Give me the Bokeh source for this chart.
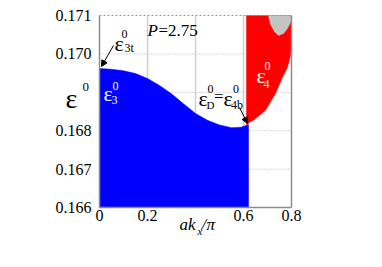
from bokeh.plotting import figure
from bokeh.models import (Range1d, FixedTicker, LinearAxis, Label, Arrow, NormalHead)
from bokeh.embed import file_html
from bokeh.resources import INLINE

# ---- data ----
x_ticks = [0.0, 0.2, 0.6, 0.8]
x_grid = [0.2, 0.4, 0.6]
y_ticks = [0.166, 0.167, 0.168, 0.170, 0.171]
y_grid = [0.167, 0.168, 0.169, 0.170]
x_lim = (0.0, 0.8)
y_lim = (0.166, 0.171)

# epsilon_3 band (blue) upper edge
kx_blue = [0.0, 0.05, 0.1, 0.15, 0.2, 0.25, 0.3, 0.35, 0.4, 0.45, 0.5, 0.55, 0.59, 0.621]
eps3_top = [0.16962, 0.16960, 0.16956, 0.16949, 0.16936, 0.16918, 0.16896, 0.16870,
            0.16845, 0.16827, 0.16815, 0.16808, 0.16809, 0.16816]

# epsilon_4 band (red) lower/right edge
kx_red = [0.6125, 0.625, 0.6458, 0.6917, 0.7333, 0.7625, 0.7833, 0.7958, 0.8]
eps4_low = [0.16814, 0.16822, 0.16829, 0.16853, 0.16897, 0.16939, 0.16965, 0.16996, 0.17022]

# grey band at top right
kx_grey = [0.704, 0.7125, 0.729, 0.746, 0.767, 0.783, 0.796, 0.8]
eps_grey = [0.171, 0.17077, 0.17058, 0.17048, 0.17053, 0.17066, 0.17082, 0.17092]

FONT = "'Liberation Serif', serif"
AXFONT = "serif"

# The frame covers the whole canvas so that the axis titles (with sub/superscripts)
# can be drawn as labels; axes are pinned at the data limits with fixed_location.
p = figure(width=374, height=259, output_backend="svg", toolbar_location=None,
           x_range=Range1d(-0.4125, 1.145833), y_range=Range1d(0.1646458, 0.1713906),
           x_axis_location=None, y_axis_location=None, min_border=0)
p.outline_line_color = None
p.background_fill_color = "white"
p.grid.visible = False

# grid lines restricted to the data box
p.segment(x0=x_grid, y0=[y_lim[0]] * len(x_grid), x1=x_grid, y1=[y_lim[1]] * len(x_grid),
          line_color="#cfcfcf", line_width=1.5)
p.segment(x0=[x_lim[0]] * len(y_grid), y0=y_grid, x1=[x_lim[1]] * len(y_grid), y1=y_grid,
          line_color="#b5b5b5", line_width=1, line_dash="1 2")


def make_axis(loc, bounds, ticks, color="#8c8c8c", width=1.5, dash="solid"):
    ax = LinearAxis(fixed_location=loc, bounds=bounds, ticker=FixedTicker(ticks=ticks),
                    major_tick_line_color=None, minor_tick_line_color=None,
                    major_tick_out=0, major_tick_in=0,
                    axis_line_color=color, axis_line_width=width, axis_line_dash=dash,
                    major_label_text_font=AXFONT, major_label_text_font_size="16px",
                    major_label_text_color="black")
    return ax


ax_left = make_axis(x_lim[0], y_lim, y_ticks)
ax_left.major_label_standoff = 8
ax_left.major_label_overrides = {0.166: "0.166", 0.167: "0.167", 0.168: "0.168",
                                 0.17: "0.170", 0.171: "0.171"}
ax_bottom = make_axis(y_lim[0], x_lim, x_ticks)
ax_bottom.major_label_standoff = 3
ax_bottom.major_label_overrides = {0: "0", 0.2: "0.2", 0.6: "0.6", 0.8: "0.8"}
ax_right = make_axis(x_lim[1], y_lim, [])
ax_top = make_axis(y_lim[1], x_lim, [], color="#9a9a9a", width=1, dash="2 2")

# bands
p.patch(kx_blue + [kx_blue[-1], kx_blue[0]], eps3_top + [y_lim[0], y_lim[0]],
        fill_color="#0000ff", line_color="#0000ff", line_width=0.5)
p.patch([kx_red[0]] + kx_red + [kx_red[-1]], [y_lim[1]] + eps4_low + [y_lim[1]],
        fill_color="#ff0000", line_color="#ff0000", line_width=0.5)
p.patch(kx_grey + [kx_grey[-1]], eps_grey + [y_lim[1]],
        fill_color="#c4c4c4", line_color="#c4c4c4", line_width=0.5)

p.add_layout(ax_left, "left")
p.add_layout(ax_bottom, "below")
p.add_layout(ax_right, "right")
p.add_layout(ax_top, "above")


def lab(x, y, text, size, color="black", style="normal"):
    p.add_layout(Label(x=x, y=y, text=text, text_font=FONT, text_font_size=size,
                       text_color=color, text_font_style=style,
                       text_align="left", text_baseline="alphabetic"))


# eps^0_3t annotation
lab(0.0625, 0.170271, "ε", "22px")
lab(0.0917, 0.170531, "0", "12px")
lab(0.1042, 0.170141, "3t", "12px")
p.add_layout(Arrow(end=NormalHead(size=6, fill_color="black", line_color="black"),
                   x_start=0.0583, y_start=0.170219, x_end=0.0083, y_end=0.169672,
                   line_color="black", line_width=1))

# eps^0_3 (white in blue)
lab(0.0167, 0.168969, "ε", "22px", "white")
lab(0.0542, 0.169177, "0", "12px", "white")
lab(0.0500, 0.168812, "3", "12px", "white")

# P = 2.75
lab(0.2000, 0.170609, "P", "17px", style="italic")
lab(0.2458, 0.170609, "=2.75", "17px")

# eps^0_D = eps^0_4b
lab(0.4125, 0.168839, "ε", "22px")
lab(0.4500, 0.169073, "0", "12px")
lab(0.4458, 0.168682, "D", "11px")
lab(0.4771, 0.168891, "=", "17px")
lab(0.5167, 0.168839, "ε", "22px")
lab(0.5563, 0.169073, "0", "12px")
lab(0.5479, 0.168682, "4b", "12px")
p.add_layout(Arrow(end=NormalHead(size=6, fill_color="black", line_color="black"),
                   x_start=0.5833, y_start=0.168604, x_end=0.6167, y_end=0.168188,
                   line_color="black", line_width=1))

# eps^0_4 (white in red)
lab(0.6542, 0.169437, "ε", "22px", "white")
lab(0.6875, 0.169672, "0", "12px", "white")
lab(0.6833, 0.169229, "4", "12px", "white")

# y-axis title eps^0
lab(-0.14167, 0.168839, "ε", "28px")
lab(-0.07083, 0.169125, "0", "13px")

# x-axis title a k_x / pi
lab(0.3333, 0.165557, "ak", "17px", style="italic")
lab(0.40833, 0.165375, "x", "11px", style="italic")
lab(0.4250, 0.165557, "/", "17px", style="italic")
lab(0.44583, 0.165557, "π", "17px", style="italic")

open("out.html", "w").write(file_html(p, INLINE))
